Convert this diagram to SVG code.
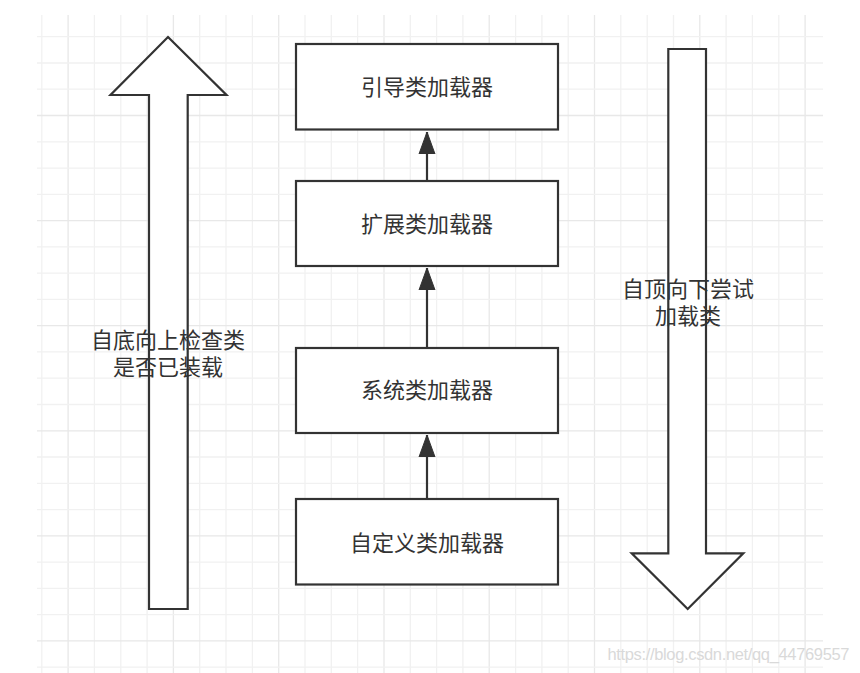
<svg xmlns="http://www.w3.org/2000/svg" width="860" height="673" viewBox="0 0 860 673">
<defs>
<style>
.grid{stroke:#f1f1f1;stroke-width:1.3;fill:none}
.gridm{stroke:#e8e8e8;stroke-width:1.3;fill:none}
.box{fill:#ffffff;stroke:#333333;stroke-width:2.2}
.big{fill:#ffffff;stroke:#333333;stroke-width:2.2;stroke-linejoin:miter}
.lbl{font-family:"Noto Sans CJK SC","Noto Sans",sans-serif;font-size:22px;fill:#333333;text-anchor:middle}
.conn{stroke:#333333;stroke-width:2.2;fill:none}
.wm{font-family:"Liberation Sans",Arial,sans-serif;font-size:16.5px;fill:#d9d9d9}
</style>
<marker id="arr" markerUnits="userSpaceOnUse" markerWidth="24" markerHeight="18" viewBox="0 0 24 18" refX="22" refY="9" orient="auto">
<path d="M0 1 L22 9 L0 17 Z" fill="#333333" stroke="#333333" stroke-width="1" stroke-linejoin="miter"/>
</marker>
</defs>
<rect width="860" height="673" fill="#ffffff"/>
<g id="grid">
<path class="grid" d="M41.8 15V673M94.4 15V673M120.8 15V673M147.1 15V673M199.7 15V673M226 15V673M252.4 15V673M305 15V673M331.3 15V673M357.6 15V673M410.3 15V673M436.6 15V673M462.9 15V673M515.6 15V673M541.9 15V673M568.2 15V673M620.8 15V673M647.2 15V673M673.5 15V673M726.1 15V673M752.4 15V673M778.8 15V673"/>
<path class="gridm" d="M68.1 15V673M173.4 15V673M278.7 15V673M384 15V673M489.2 15V673M594.5 15V673M699.8 15V673M805.1 15V673"/>
<path class="grid" d="M37 36.7H823M37 63H823M37 89.2H823M37 141.8H823M37 168.1H823M37 194.3H823M37 246.9H823M37 273.1H823M37 299.4H823M37 351.9H823M37 378.2H823M37 404.5H823M37 457H823M37 483.3H823M37 509.6H823M37 562.1H823M37 588.4H823M37 614.6H823M37 667.2H823"/>
<path class="gridm" d="M37 115.5H823M37 220.6H823M37 325.7H823M37 430.8H823M37 535.8H823M37 640.9H823"/>
</g>
<g id="up-arrow">
<polygon class="big" points="168,37 226.5,95 187.7,95 187.7,609 149,609 149,95 110.5,95"/>
<text class="lbl" x="168" y="348">自底向上检查类</text>
<text class="lbl" x="168" y="375">是否已装载</text>
</g>
<g id="down-arrow">
<polygon class="big" points="668.3,49 706,49 706,553.3 743.3,553.3 687.7,609 631.7,553.3 668.3,553.3"/>
<text class="lbl" x="688" y="297">自顶向下尝试</text>
<text class="lbl" x="688" y="324">加载类</text>
</g>
<g id="connectors">
<line class="conn" x1="427" y1="181" x2="427" y2="132" marker-end="url(#arr)"/>
<line class="conn" x1="427" y1="348" x2="427" y2="268" marker-end="url(#arr)"/>
<line class="conn" x1="427" y1="499" x2="427" y2="435" marker-end="url(#arr)"/>
</g>
<g id="bootstrap">
<rect class="box" x="296" y="44" width="262" height="85.5"/>
<text class="lbl" x="427" y="95">引导类加载器</text>
</g>
<g id="extension">
<rect class="box" x="296" y="181" width="262" height="85"/>
<text class="lbl" x="427" y="232">扩展类加载器</text>
</g>
<g id="system">
<rect class="box" x="296" y="348" width="262" height="85"/>
<text class="lbl" x="427" y="398">系统类加载器</text>
</g>
<g id="custom">
<rect class="box" x="296" y="499" width="262" height="85.5"/>
<text class="lbl" x="427" y="551">自定义类加载器</text>
</g>
<text class="wm" x="607.5" y="660" textLength="242">https://blog.csdn.net/qq_44769557</text>
</svg>
